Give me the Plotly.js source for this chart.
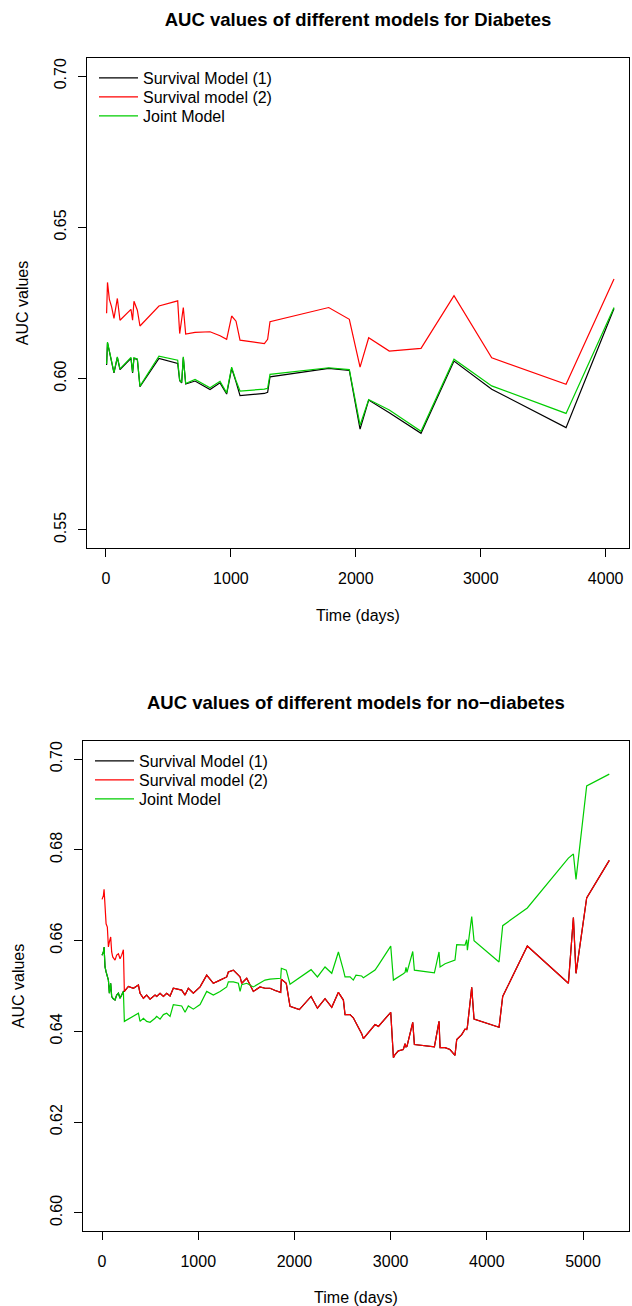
<!DOCTYPE html>
<html>
<head>
<meta charset="utf-8">
<script src="https://cdn.plot.ly/plotly-3.0.1.min.js"></script>
<style>html,body{margin:0;padding:0;background:#fff;}#chart{width:632px;height:1306px;}</style>
</head>
<body>
<div id="chart"></div>
<script>
// ---------- Diabetes (top panel) ----------
var timeDiab = [5, 12, 27, 45, 64, 91, 112, 200, 213, 224, 251, 272, 424, 574, 590, 606, 619, 638, 713, 833, 913, 966, 1006, 1041, 1073, 1268, 1294, 1313, 1783, 1948, 2034, 2103, 2268, 2522, 2786, 3088, 3683, 4067];
var surv1Diab = [0.6045, 0.6118, 0.6090, 0.6056, 0.6019, 0.6070, 0.6030, 0.6067, 0.6019, 0.6067, 0.6063, 0.5973, 0.6067, 0.6050, 0.5993, 0.5986, 0.6070, 0.5982, 0.5992, 0.5964, 0.5986, 0.5949, 0.6034, 0.5989, 0.5944, 0.5951, 0.5955, 0.6006, 0.6034, 0.6027, 0.5833, 0.5929, 0.5887, 0.5819, 0.6058, 0.5965, 0.5838, 0.6232];
var surv2Diab = [0.6216, 0.6318, 0.6262, 0.6237, 0.6199, 0.6265, 0.6193, 0.6229, 0.6193, 0.6256, 0.6226, 0.6174, 0.6240, 0.6257, 0.6149, 0.6190, 0.6235, 0.6147, 0.6153, 0.6155, 0.6142, 0.6130, 0.6207, 0.6190, 0.6127, 0.6116, 0.6130, 0.6188, 0.6235, 0.6196, 0.6038, 0.6135, 0.6091, 0.6100, 0.6274, 0.6069, 0.5981, 0.6329];
var jointDiab = [0.6048, 0.6121, 0.6092, 0.6058, 0.6021, 0.6072, 0.6032, 0.6070, 0.6021, 0.6069, 0.6065, 0.5975, 0.6074, 0.6061, 0.5995, 0.5988, 0.6072, 0.5984, 0.5997, 0.5970, 0.5991, 0.5953, 0.6038, 0.5993, 0.5959, 0.5965, 0.5968, 0.6014, 0.6036, 0.6030, 0.5846, 0.5931, 0.5896, 0.5826, 0.6064, 0.5976, 0.5885, 0.6235];

// ---------- no-diabetes (bottom panel) ----------
var timeNoDiab = [0, 14, 21, 31, 42, 55, 66, 76, 90, 100, 111, 135, 152, 170, 187, 204, 222, 232, 274, 326, 378, 395, 430, 464, 499, 551, 568, 603, 638, 672, 707, 741, 793, 828, 863, 897, 949, 1019, 1088, 1157, 1227, 1296, 1313, 1365, 1417, 1435, 1452, 1504, 1573, 1642, 1694, 1746, 1800, 1857, 1864, 1915, 1954, 2051, 2173, 2239, 2318, 2388, 2457, 2509, 2526, 2578, 2612, 2640, 2699, 2717, 2838, 2873, 3001, 3029, 3046, 3080, 3132, 3150, 3160, 3170, 3230, 3247, 3455, 3503, 3514, 3566, 3617, 3669, 3687, 3739, 3773, 3791, 3798, 3843, 3867, 4127, 4165, 4421, 4848, 4900, 4927, 5038, 5273];
var surv2NoDiab = [0.6691, 0.6699, 0.6713, 0.6673, 0.6637, 0.6630, 0.6586, 0.6597, 0.6608, 0.6575, 0.6564, 0.6557, 0.6568, 0.6571, 0.6560, 0.6568, 0.6580, 0.6488, 0.6499, 0.6495, 0.6502, 0.6484, 0.6473, 0.6480, 0.6471, 0.6480, 0.6477, 0.6484, 0.6477, 0.6484, 0.6478, 0.6495, 0.6493, 0.6491, 0.6480, 0.6495, 0.6484, 0.6498, 0.6524, 0.6506, 0.6513, 0.6520, 0.6531, 0.6535, 0.6524, 0.6520, 0.6506, 0.6517, 0.6488, 0.6498, 0.6495, 0.6495, 0.6490, 0.6486, 0.6515, 0.6506, 0.6455, 0.6448, 0.6477, 0.6451, 0.6472, 0.6453, 0.6486, 0.6469, 0.6437, 0.6437, 0.6430, 0.6419, 0.6395, 0.6384, 0.6415, 0.6411, 0.6442, 0.6342, 0.6349, 0.6357, 0.6360, 0.6373, 0.6366, 0.6367, 0.6420, 0.6371, 0.6366, 0.6422, 0.6364, 0.6364, 0.6360, 0.6347, 0.6382, 0.6393, 0.6405, 0.6404, 0.6410, 0.6497, 0.6427, 0.6409, 0.6477, 0.6588, 0.6506, 0.6651, 0.6528, 0.6694, 0.6777];
var jointNoDiab = [0.6568, 0.6575, 0.6586, 0.6542, 0.6531, 0.6520, 0.6513, 0.6484, 0.6506, 0.6477, 0.6473, 0.6469, 0.6480, 0.6484, 0.6473, 0.6480, 0.6488, 0.6422, 0.6427, 0.6433, 0.6440, 0.6422, 0.6429, 0.6422, 0.6420, 0.6429, 0.6433, 0.6427, 0.6437, 0.6440, 0.6433, 0.6459, 0.6457, 0.6456, 0.6442, 0.6456, 0.6449, 0.6459, 0.6488, 0.6480, 0.6488, 0.6498, 0.6509, 0.6509, 0.6506, 0.6488, 0.6503, 0.6506, 0.6498, 0.6506, 0.6513, 0.6515, 0.6516, 0.6517, 0.6539, 0.6535, 0.6504, 0.6518, 0.6536, 0.6520, 0.6542, 0.6528, 0.6575, 0.6535, 0.6520, 0.6520, 0.6513, 0.6524, 0.6522, 0.6518, 0.6535, 0.6546, 0.6588, 0.6513, 0.6515, 0.6520, 0.6527, 0.6530, 0.6541, 0.6530, 0.6576, 0.6535, 0.6529, 0.6575, 0.6542, 0.6549, 0.6553, 0.6557, 0.6591, 0.6590, 0.6590, 0.6602, 0.6579, 0.6653, 0.6600, 0.6553, 0.6633, 0.6672, 0.6782, 0.6791, 0.6735, 0.6941, 0.6967];
// Survival Model (1) is hidden under the Joint Model early on and under Survival model (2) afterwards
var surv1NoDiab = [0.6568, 0.6575, 0.6586, 0.6542, 0.6531, 0.6520, 0.6513, 0.6484, 0.6506, 0.6477, 0.6473, 0.6469, 0.6480, 0.6484, 0.6473, 0.6480, 0.6488, 0.6488, 0.6499, 0.6495, 0.6502, 0.6484, 0.6473, 0.6480, 0.6471, 0.6480, 0.6477, 0.6484, 0.6477, 0.6484, 0.6478, 0.6495, 0.6493, 0.6491, 0.6480, 0.6495, 0.6484, 0.6498, 0.6524, 0.6506, 0.6513, 0.6520, 0.6531, 0.6535, 0.6524, 0.6520, 0.6506, 0.6517, 0.6488, 0.6498, 0.6495, 0.6495, 0.6490, 0.6486, 0.6515, 0.6506, 0.6455, 0.6448, 0.6477, 0.6451, 0.6472, 0.6453, 0.6486, 0.6469, 0.6437, 0.6437, 0.6430, 0.6419, 0.6395, 0.6384, 0.6415, 0.6411, 0.6442, 0.6342, 0.6349, 0.6357, 0.6360, 0.6373, 0.6366, 0.6367, 0.6420, 0.6371, 0.6366, 0.6422, 0.6364, 0.6364, 0.6360, 0.6347, 0.6382, 0.6393, 0.6405, 0.6404, 0.6410, 0.6497, 0.6427, 0.6409, 0.6477, 0.6588, 0.6506, 0.6651, 0.6528, 0.6694, 0.6777];

var seriesNames = ["Survival Model (1)", "Survival model (2)", "Joint Model"];
var seriesColors = ["#000000", "#FF0000", "#00CD00"];
var titles = ["AUC values of different models for Diabetes", "AUC values of different models for no\u2212diabetes"];
var yTicksTop = [0.55, 0.60, 0.65, 0.70];
var yTicksBottom = [0.60, 0.62, 0.64, 0.66, 0.68, 0.70];
var xTicksTop = [0, 1000, 2000, 3000, 4000];
var xTicksBottom = [0, 1000, 2000, 3000, 4000, 5000];

var FONT = "Liberation Sans, Arial, Helvetica, sans-serif";
var W = 632, H = 1306;
function px(x) { return x / W; }
function py(y) { return 1 - y / H; }

function mk(x, y, i, xa, ya, leg) {
  return {x: x, y: y, type: "scatter", mode: "lines", name: seriesNames[i],
    xaxis: xa, yaxis: ya, legend: leg,
    line: {color: seriesColors[i], width: 1.2}};
}

var data = [
  mk(timeDiab, surv1Diab, 0, "x", "y", "legend"),
  mk(timeDiab, surv2Diab, 1, "x", "y", "legend2"),
  mk(timeDiab, jointDiab, 2, "x", "y", "legend3"),
  mk(timeNoDiab, surv1NoDiab, 0, "x2", "y2", "legend4"),
  mk(timeNoDiab, surv2NoDiab, 1, "x2", "y2", "legend5"),
  mk(timeNoDiab, jointNoDiab, 2, "x2", "y2", "legend6")
];

function xax(dom, rng, ticks, anchor) {
  return {domain: dom, range: rng, anchor: anchor, tickvals: ticks, ticktext: ticks.map(String),
    showline: true, mirror: true, linecolor: "#000", linewidth: 1,
    ticks: "outside", ticklen: 8, tickcolor: "#000", tickwidth: 1,
    showgrid: false, zeroline: false, ticklabelstandoff: 8,
    tickfont: {family: FONT, size: 16, color: "#000"},
    title: {text: "Time (days)", font: {family: FONT, size: 16, color: "#000"}, standoff: 23}};
}
function yax(dom, rng, ticks, anchor) {
  return {domain: dom, range: rng, anchor: anchor, tickvals: ticks, ticktext: ticks.map(function(v){return v.toFixed(2);}),
    showline: true, mirror: true, linecolor: "#000", linewidth: 1,
    ticks: "outside", ticklen: 8, tickcolor: "#000", tickwidth: 1, tickangle: -90,
    showgrid: false, zeroline: false, ticklabelstandoff: 6,
    tickfont: {family: FONT, size: 16, color: "#000"},
    title: {text: "AUC values", font: {family: FONT, size: 16, color: "#000"}, standoff: 18}};
}

function leg(xPix, yPix) {
  return {bgcolor: "rgba(0,0,0,0)", borderwidth: 0, xanchor: "left", yanchor: "top",
    x: px(xPix), y: py(yPix), itemwidth: 39,
    font: {family: FONT, size: 16, color: "#000"}, tracegroupgap: 0, itemclick: false};
}

var layout = {
  width: W, height: H, margin: {l: 0, r: 0, t: 0, b: 0},
  paper_bgcolor: "#fff", plot_bgcolor: "#fff", showlegend: true,
  font: {family: FONT, size: 16, color: "#000"},
  title: {text: "<b>" + titles[0] + "</b>", x: px(358), y: py(20), xanchor: "center", yanchor: "middle",
    xref: "paper", yref: "paper", font: {family: FONT, size: 18.5, color: "#000"}},
  xaxis: xax([px(87), px(629)], [-152, 4187], xTicksTop, "y"),
  yaxis: yax([py(548), py(58)], [0.544, 0.706], yTicksTop, "x"),
  xaxis2: xax([px(83), px(629)], [-198, 5478], xTicksBottom, "y2"),
  yaxis2: yax([py(1231), py(741)], [0.596, 0.704], yTicksBottom, "x2"),
  legend: leg(94, 61),
  legend2: leg(94, 80),
  legend3: leg(94, 99),
  legend4: leg(90, 744),
  legend5: leg(90, 763),
  legend6: leg(90, 782),
  annotations: [{text: "<b>" + titles[1] + "</b>", xref: "paper", yref: "paper", x: px(356), y: py(702),
    xanchor: "center", yanchor: "middle", showarrow: false, font: {family: FONT, size: 18.5, color: "#000"}}]
};

Plotly.newPlot("chart", data, layout, {staticPlot: true, displayModeBar: false});
</script>
</body>
</html>
